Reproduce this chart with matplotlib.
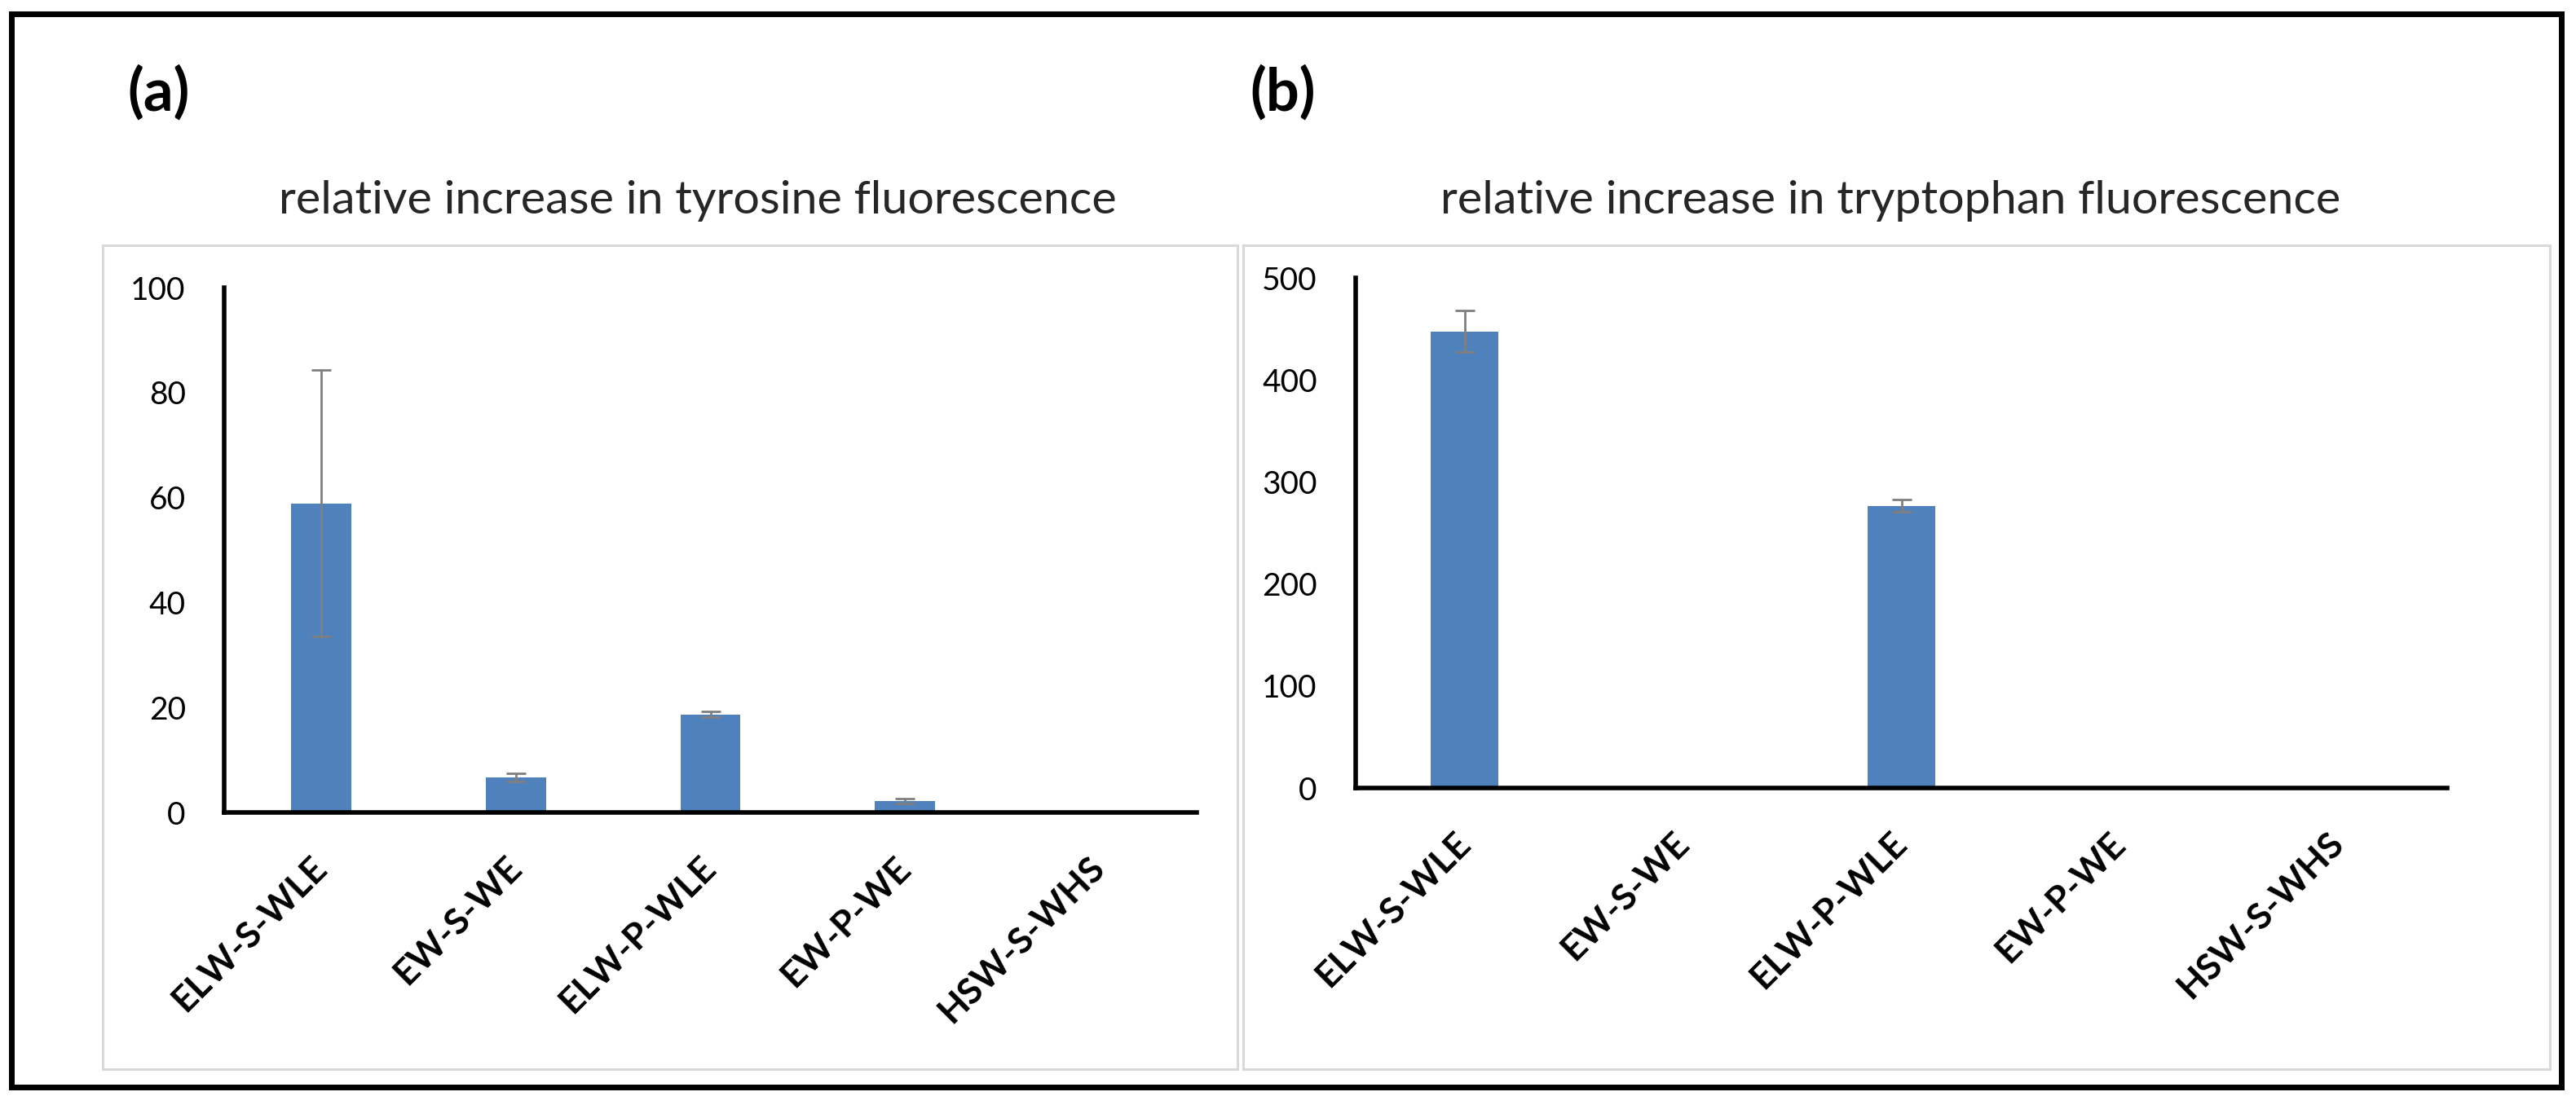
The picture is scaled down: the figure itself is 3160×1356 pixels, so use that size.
import matplotlib
matplotlib.use('Agg')
import matplotlib.pyplot as plt
import matplotlib.patches as mp
import numpy as np

plt.rcParams['font.family'] = ['Lato', 'DejaVu Sans']

samples = ['ELW-S-WLE', 'EW-S-WE', 'ELW-P-WLE', 'EW-P-WE', 'HSW-S-WHS']
tyr_mean = [58.9, 6.7, 18.7, 2.2, 0.0]
tyr_err = [25.4, 0.75, 0.6, 0.5, 0.0]
trp_mean = [447.6, 0.0, 276.5, 0.0, 0.0]
trp_err = [20.3, 0.0, 6.0, 0.0, 0.0]

W, H = 3160, 1356
DPI = 200
BAR = '#4F81BD'


def px_rect(x0, y0, x1, y1):
    # pixel box (top-left origin) -> figure fraction [l, b, w, h]
    return [x0 / W, 1 - y1 / H, (x1 - x0) / W, (y1 - y0) / H]


fig = plt.figure(figsize=(W / DPI, H / DPI), dpi=DPI)
renderer = fig.canvas.get_renderer()

# title size: "relative increase in" spans ~471 px in the reference
probe = fig.text(0, 0, 'relative increase in', fontsize=20)
probe_w = probe.get_window_extent(renderer).width
probe.remove()
title_size = 20 * 471 / probe_w

# outer black frame and the two light chart-area boxes
fig.patches.append(mp.Rectangle((13.5 / W, 1 - 1333.5 / H), 3128 / W, 1317 / H,
                                transform=fig.transFigure, fill=False,
                                edgecolor='black', linewidth=2.5))
for x0, x1 in [(126, 1518), (1525, 3128)]:
    fig.patches.append(mp.Rectangle((x0 / W, 1 - 1312 / H), (x1 - x0) / W, 1011 / H,
                                    transform=fig.transFigure, fill=False,
                                    edgecolor='#D9D9D9', linewidth=1.1))


def draw_panel(rect, means, errs, ymax, step, title, tag, tag_x, title_x):
    ax = fig.add_axes(rect)
    x = np.arange(len(samples))
    means = np.array(means)
    errs = np.array(errs)
    ax.bar(x, means, width=0.31, color=BAR, zorder=2)
    keep = errs > 0
    ax.errorbar(x[keep], means[keep], yerr=errs[keep], fmt='none',
                ecolor='#7F7F7F', elinewidth=1.0, capsize=4.3, capthick=1.0,
                zorder=3)
    ax.set_xlim(-0.5, len(samples) - 0.5)
    ax.set_ylim(0, ymax)
    ax.set_yticks(np.arange(0, ymax + 1, step))
    ax.set_xticks(x)
    ax.set_xticklabels(samples, fontsize=16, fontweight='bold')
    plt.setp(ax.get_xticklabels(), rotation=45, ha='right', va='center',
             rotation_mode='anchor')
    for side in ['top', 'right']:
        ax.spines[side].set_visible(False)
    for side in ['left', 'bottom']:
        ax.spines[side].set_linewidth(2)
        ax.spines[side].set_color('black')
    ax.tick_params(axis='x', length=0, pad=22)
    ax.tick_params(axis='y', length=0, pad=17, labelsize=14)
    fig.text(tag_x / W, 1 - 114 / H, tag, fontsize=26, fontweight='bold',
             ha='left', va='center')
    fig.text(title_x / W, 1 - 262 / H, title, fontsize=title_size,
             color='#262626', ha='left', va='baseline')
    return ax


draw_panel(px_rect(275, 353, 1468, 997), tyr_mean, tyr_err, 100, 20,
           'relative increase in tyrosine fluorescence', '(a)', 156, 342)
draw_panel(px_rect(1663, 341, 3002, 967), trp_mean, trp_err, 500, 100,
           'relative increase in tryptophan fluorescence', '(b)', 1533, 1767)

fig.savefig('out.png', dpi=DPI)
